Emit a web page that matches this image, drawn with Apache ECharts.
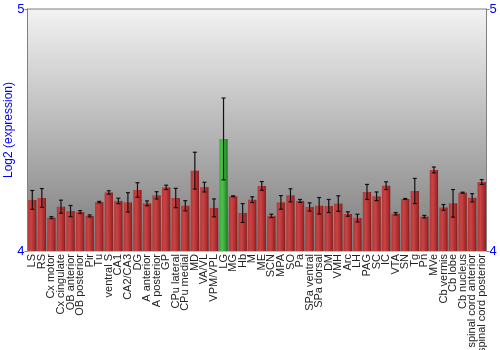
<!DOCTYPE html>
<html><head><meta charset="utf-8">
<script src="https://cdn.jsdelivr.net/npm/echarts@6/dist/echarts.min.js"></script>
<style>html,body{margin:0;padding:0;background:#fff}#c{width:500px;height:350px}</style>
</head><body><div id="c"></div>
<script>
const categories = ["LS","RS","Cx motor","Cx cingulate","OB anterior","OB posterior","Pir","Tu","ventral S","CA1","CA2/CA3","DG","A anterior","A posterior","GP","CPu lateral","CPu medial","MD","VA/VL","VPM/VPL","LG","MG","Hb","M","ME","SCN","MPA","SO","Pa","SPa ventral","SPa dorsal","DM","VMH","Arc","LH","PAG","SC","IC","VTA","SN","Tg","Pn","MVe","Cb vermis","Cb lobe","Cb nucleus","spinal cord anterior","spinal cord posterior"];
const values = [4.211,4.219,4.138,4.183,4.165,4.161,4.145,4.202,4.242,4.207,4.201,4.252,4.197,4.230,4.263,4.219,4.187,4.332,4.264,4.178,4.463,4.226,4.157,4.212,4.269,4.145,4.201,4.230,4.207,4.182,4.187,4.186,4.196,4.153,4.136,4.244,4.226,4.270,4.154,4.215,4.248,4.142,4.335,4.180,4.197,4.241,4.220,4.285];
const errors = [0.039,0.039,0.004,0.027,0.023,0.006,0.004,0.003,0.007,0.011,0.040,0.030,0.010,0.015,0.009,0.040,0.021,0.076,0.020,0.037,0.169,0.002,0.039,0.012,0.018,0.007,0.028,0.027,0.006,0.017,0.034,0.027,0.032,0.009,0.016,0.031,0.018,0.016,0.005,0.002,0.052,0.005,0.012,0.012,0.057,0.002,0.017,0.010];
const highlight = "LG";
const yTicks = [4, 5];

const redGrad = new echarts.graphic.LinearGradient(0,0,1,0,[{offset:0,color:'#b83434'},{offset:0.35,color:'#c94444'},{offset:0.8,color:'#a82a2a'},{offset:1,color:'#7e1c1c'}]);
const greenGrad = new echarts.graphic.LinearGradient(0,0,1,0,[{offset:0,color:'#3aaa3a'},{offset:0.35,color:'#4cc24c'},{offset:0.8,color:'#2e962e'},{offset:1,color:'#1f6e1f'}]);

const barData = values.map((v,i)=>({value:v,itemStyle:{color: categories[i]===highlight?greenGrad:redGrad}}));
const errData = values.map((v,i)=>[i, v-errors[i], v+errors[i]]);

const chart = echarts.init(document.getElementById('c'), null, {renderer:'canvas'});
chart.setOption({
  animation:false,
  grid:{left:27.5,right:13.5,top:9,bottom:99,containLabel:false,outerBoundsMode:'none',show:true,borderColor:'#808080',borderWidth:1,
    backgroundColor:new echarts.graphic.LinearGradient(0,0,0,1,[{offset:0,color:'#f3f3f3'},{offset:1,color:'#7a7a7a'}])},
  xAxis:{type:'category',data:categories,boundaryGap:true,
    axisLine:{show:false},axisTick:{show:false},
    axisLabel:{rotate:90,interval:0,fontSize:11,fontFamily:'Liberation Sans, Arial, sans-serif',color:'#222',margin:3}},
  yAxis:[
    {type:'value',min:yTicks[0],max:yTicks[1],interval:1,position:'left',
     name:'Log2 (expression)',nameLocation:'middle',nameGap:13,nameMoveOverlap:false,
     nameTextStyle:{color:'#0000ff',fontSize:12,fontFamily:'Liberation Sans, Arial, sans-serif'},
     axisLine:{show:true,lineStyle:{color:'#808080'}},axisTick:{show:true,length:3,lineStyle:{color:'#808080'}},
     axisLabel:{color:'#0000ff',fontSize:13,fontFamily:'Liberation Sans, Arial, sans-serif',margin:3},
     splitLine:{show:false}},
    {type:'value',min:yTicks[0],max:yTicks[1],interval:1,position:'right',
     axisLine:{show:true,lineStyle:{color:'#808080'}},axisTick:{show:true,length:3,lineStyle:{color:'#808080'}},
     axisLabel:{color:'#0000ff',fontSize:13,fontFamily:'Liberation Sans, Arial, sans-serif',margin:3},
     splitLine:{show:false}}
  ],
  series:[
    {type:'bar',data:barData,barCategoryGap:'13%',yAxisIndex:0},
    {type:'custom',yAxisIndex:0,data:errData,z:10,
     renderItem:function(params,api){
       const x=api.value(0);
       const lo=api.coord([x,api.value(1)]);
       const hi=api.coord([x,api.value(2)]);
       const cw=2;
       const st={stroke:'#111',lineWidth:1.2};
       return {type:'group',children:[
         {type:'line',shape:{x1:lo[0],y1:lo[1],x2:hi[0],y2:hi[1]},style:st},
         {type:'line',shape:{x1:lo[0]-cw,y1:lo[1],x2:lo[0]+cw,y2:lo[1]},style:st},
         {type:'line',shape:{x1:hi[0]-cw,y1:hi[1],x2:hi[0]+cw,y2:hi[1]},style:st}
       ]};
     }}
  ]
});
</script></body></html>
